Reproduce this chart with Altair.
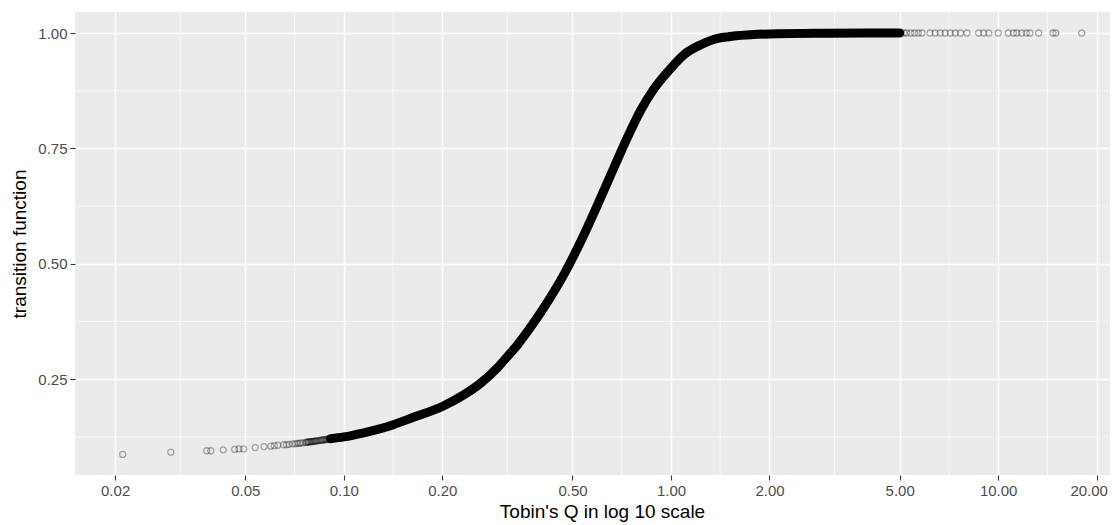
import altair as alt
import pandas as pd

# ---- data ----
# sparse points on the left tail (Tobin's Q, transition function)
left_q = [0.0211, 0.0296, 0.0381, 0.0392, 0.0428, 0.0464, 0.0478, 0.0494, 0.0536,
          0.0570, 0.0598, 0.0613, 0.0628, 0.0655, 0.0668, 0.0680, 0.0697, 0.0710,
          0.0720, 0.0730, 0.0738, 0.0750, 0.0764, 0.0770, 0.0775, 0.0780, 0.0785,
          0.0790, 0.0795, 0.0800, 0.0805, 0.0810, 0.0815, 0.0820, 0.0825, 0.0830,
          0.0838, 0.0844, 0.0850, 0.0856, 0.0862, 0.0868, 0.0875, 0.0882, 0.0888,
          0.0894, 0.0900]
left_t = [0.087, 0.092, 0.095, 0.095, 0.097, 0.098, 0.099, 0.099, 0.102,
          0.104, 0.105, 0.106, 0.107, 0.108, 0.108, 0.109, 0.110, 0.110,
          0.111, 0.111, 0.112, 0.112, 0.113, 0.113, 0.114, 0.114, 0.114,
          0.115, 0.115, 0.115, 0.115, 0.116, 0.116, 0.116, 0.116, 0.117,
          0.117, 0.117, 0.118, 0.118, 0.118, 0.119, 0.119, 0.119, 0.120,
          0.120, 0.120]

# sparse points on the right tail
right_q = [5.05, 5.15, 5.25, 5.40, 5.55, 5.70, 5.85, 6.19, 6.42, 6.65, 6.89, 7.14, 7.40,
           7.67, 8.03, 8.72, 9.03, 9.36, 10.00, 10.74, 11.13, 11.40, 11.80, 12.20,
           12.50, 13.30, 14.70, 15.00, 18.00]
right_t = [1.0, 1.0, 1.0, 1.0, 1.0, 1.0, 1.0, 1.0, 1.0, 1.0, 1.0, 1.0, 1.0,
           1.0, 1.0, 1.0, 1.0, 1.0, 1.0, 1.0, 1.0, 1.0, 1.0, 1.0,
           1.0, 1.0, 1.0, 1.0, 1.0]

# dense central band of points
curve_q = [0.0911, 0.100, 0.115, 0.141, 0.164, 0.200, 0.2325, 0.2615, 0.294, 0.316,
           0.339, 0.371, 0.420, 0.470, 0.528, 0.594, 0.668, 0.734, 0.806, 0.885,
           1.000, 1.100, 1.229, 1.350, 1.500, 1.750, 2.000, 3.000, 4.000, 5.000]
curve_t = [0.121, 0.125, 0.134, 0.151, 0.168, 0.191, 0.216, 0.241, 0.274, 0.299,
           0.324, 0.361, 0.418, 0.476, 0.546, 0.625, 0.707, 0.772, 0.831, 0.878,
           0.924, 0.954, 0.974, 0.986, 0.992, 0.996, 0.998, 0.9995, 1.000, 1.000]

# axis breaks
x_major = [0.02, 0.05, 0.10, 0.20, 0.50, 1.00, 2.00, 5.00, 10.00, 20.00]
x_minor = [0.03162, 0.07071, 0.1414, 0.3162, 0.7071, 1.414, 3.162, 7.071, 14.14]
y_major = [0.25, 0.50, 0.75, 1.00]
y_minor = [0.125, 0.375, 0.625, 0.875]

pts = pd.DataFrame({"q": left_q + right_q, "t": left_t + right_t})
band = pd.DataFrame({"q": curve_q, "t": curve_t})
mx = pd.DataFrame({"q": x_minor})
my = pd.DataFrame({"t": y_minor})

FONT = "Liberation Sans"
xscale = alt.Scale(type="log", domain=[0.01508, 21.97], nice=False)
yscale = alt.Scale(domain=[0.0425, 1.0455], nice=False, zero=False)

xaxis = alt.Axis(values=x_major, format=".2f", title="Tobin's Q in log 10 scale",
                 titleX=527, labelFlush=False, labelOverlap=False,
                 labelOffset={"expr": "datum.value >= 15 ? -8 : 0"})
yaxis = alt.Axis(values=y_major, format=".2f", title="transition function")

X = alt.X("q:Q", scale=xscale, axis=xaxis)
Y = alt.Y("t:Q", scale=yscale, axis=yaxis)

minor_x = alt.Chart(mx).mark_rule(color="white", strokeWidth=0.7).encode(x=X)
minor_y = alt.Chart(my).mark_rule(color="white", strokeWidth=0.7).encode(y=Y)

line = alt.Chart(band).mark_line(color="black", strokeWidth=9, strokeCap="round",
                                 strokeJoin="round", interpolate="monotone").encode(x=X, y=Y)

dots = alt.Chart(pts).mark_point(shape="circle", filled=False, size=36, strokeWidth=1.3,
                                 color="black", opacity=0.3).encode(x=X, y=Y)

chart = alt.layer(minor_x, minor_y, line, dots).properties(
    width=1035, height=463,
    padding={"left": 67, "top": 4, "right": 0, "bottom": 47},
    autosize=alt.AutoSizeParams(type="none"),
).configure_view(
    fill="#EBEBEB", stroke=None
).configure_axis(
    domain=False,
    grid=True, gridColor="white", gridWidth=1.4,
    tickColor="#333333", tickSize=5, tickWidth=1.1,
    labelFont=FONT, labelFontSize=15, labelColor="#4D4D4D", labelPadding=3,
    titleFont=FONT, titleFontSize=19, titleColor="black", titleFontWeight="normal",
).configure_axisX(
    titlePadding=4
).configure_axisY(
    titlePadding=8
)

chart.save("out.html", embed_options={"renderer": "svg", "actions": False})
